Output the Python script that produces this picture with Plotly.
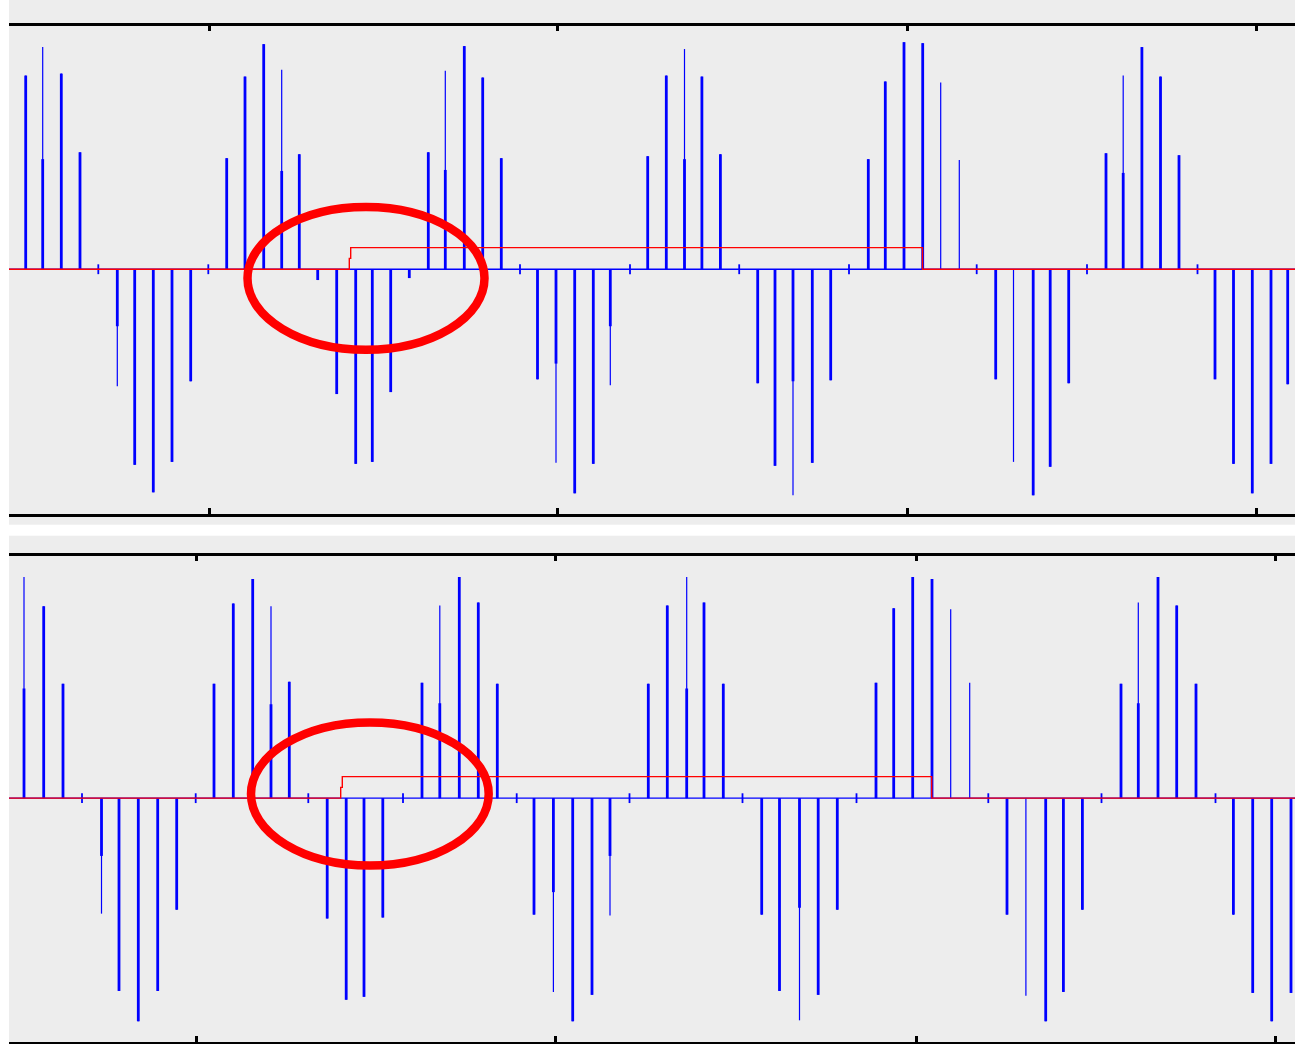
import plotly.graph_objects as go

# Recorder window (sample index) shared by both records
WINDOW = [9, 1295]

# ---------------- upper record ----------------
# pulse position, peak level (V) and level of the wide part of the pulse (V)
TOP_T = [25.7, 42.7, 61.3, 80.0, 117.3, 134.7, 153.3, 172.0, 190.7,
         226.7, 245.0, 263.7, 281.7, 299.3, 317.7, 336.7, 355.7, 372.3, 390.7, 409.3,
         428.3, 445.3, 464.3, 482.7, 501.3, 537.5, 556.0, 574.7, 593.3, 610.3,
         647.7, 666.3, 684.5, 701.9, 720.4, 757.7, 775.0, 793.0, 812.3, 830.7,
         868.3, 885.3, 904.0, 922.7, 940.7, 959.3, 995.7, 1013.5, 1033.2, 1050.2, 1068.7,
         1106.0, 1123.2, 1141.9, 1160.5, 1179.0, 1215.0, 1233.5, 1252.3, 1271.0, 1287.7]
TOP_PEAK = [197, 226, 199, 119, -119, -199, -227, -196, -114,
            113, 196, 229, 203, 117, -11, -127, -198, -196, -125, -9,
            119, 202, 227, 195, 113, -112, -197, -228, -198, -118,
            115, 197, 224, 196, 117, -116, -200, -230, -197, -113,
            112, 191, 231, 230, 190, 111, -112, -196, -230, -201, -116,
            118, 197, 226, 196, 116, -112, -198, -228, -198, -117]
TOP_BODY = [197, 112, 199, 119, -58, -199, -227, -196, -114,
            113, 196, 229, 100, 117, -11, -127, -198, -196, -125, -9,
            119, 101, 227, 195, 113, -112, -96, -228, -198, -58,
            115, 197, 112, 196, 117, -116, -200, -114, -197, -113,
            112, 191, 231, 230, 0, 0, -112, 0, -230, -201, -116,
            118, 98, 226, 196, 116, -112, -198, -228, -198, -117]
TOP_BLIP_T = [98.3, 208.3, 520.0, 630.0, 739.2, 849.0, 976.7, 1087.0, 1197.5]
TOP_FAULT_T = [9, 349.3, 350.7, 922.5, 1295]
TOP_FAULT_V = [0, 11, 22, 0, 0]
TOP_TICKS = [209.3, 557.7, 907.5, 1256.0]

# ---------------- lower record ----------------
BOT_T = [24.0, 43.7, 63.0, 101.5, 119.0, 138.3, 157.7, 176.7,
         214.0, 233.3, 252.7, 271.0, 289.3, 327.2, 346.2, 364.0, 382.8,
         422.0, 439.8, 459.3, 478.3, 497.3, 534.0, 553.4, 572.7, 592.0, 610.0,
         648.3, 667.3, 686.7, 704.0, 723.3, 761.7, 779.5, 799.5, 818.2, 837.3,
         876.0, 893.7, 912.7, 932.0, 950.7, 969.7, 1007.0, 1025.9, 1045.7, 1063.4, 1082.4,
         1121.0, 1138.3, 1158.0, 1176.7, 1196.0, 1233.4, 1252.7, 1271.7, 1291.0]
BOT_PEAK = [226, 196, 117, -118, -197, -228, -197, -114,
            117, 199, 224, 196, 119, -123, -206, -203, -122,
            118, 197, 226, 200, 117, -119, -198, -228, -201, -120,
            117, 197, 226, 200, 117, -119, -197, -227, -201, -114,
            118, 194, 226, 224, 193, 118, -119, -202, -228, -198, -114,
            117, 200, 226, 197, 117, -119, -199, -228, -199]
BOT_BODY = [112, 196, 117, -59, -197, -228, -197, -114,
            117, 199, 224, 96, 119, -123, -206, -203, -122,
            118, 97, 226, 200, 117, -119, -96, -228, -201, -59,
            117, 197, 112, 200, 117, -119, -197, -112, -201, -114,
            118, 194, 226, 224, 0, 0, -119, 0, -228, -198, -114,
            117, 97, 226, 197, 117, -119, -199, -228, -199]
BOT_BLIP_T = [82.0, 195.7, 308.3, 403.0, 516.7, 629.5, 742.5, 856.5, 988.3, 1101.5, 1215.5]
BOT_FAULT_T = [9, 340.7, 342.3, 931.7, 1295]
BOT_FAULT_V = [0, 11, 22, 0, 0]
BOT_TICKS = [196.3, 555.0, 916.0, 1275.0]

BLIP_V = 5          # half-height of the switching glitches (V)

# highlighted regions: (t0, t1, v0, v1)
TOP_MARK = (247.5, 484.5, -81.9, 63.3)
BOT_MARK = (251.0, 488.7, -68.8, 77.3)

BLUE = "#0000ff"
RED = "#ff0000"
BG = "#ededed"

W, H = 1301, 1044


def stems(ts, levels):
    xs, ys = [], []
    for t, v in zip(ts, levels):
        if v == 0:
            continue
        xs += [t, t, None]
        ys += [0, v, None]
    return xs, ys


def glitches(ts):
    xs, ys = [], []
    for t in ts:
        xs += [t, t, None]
        ys += [-BLIP_V, BLIP_V, None]
    return xs, ys


fig = go.Figure()


def add_record(xa, xa_top, ya, ts, peaks, bodies, blips, ft, fv):
    # empty trace so the upper frame axis gets its own subplot
    fig.add_trace(go.Scatter(x=[None], y=[None], mode="lines",
                             xaxis=xa_top, yaxis=ya, hoverinfo="skip"))
    fig.add_trace(go.Scatter(x=WINDOW, y=[0, 0], mode="lines",
                             line=dict(color=BLUE, width=1.3),
                             xaxis=xa, yaxis=ya, hoverinfo="skip"))
    x, y = stems(ts, peaks)
    fig.add_trace(go.Scatter(x=x, y=y, mode="lines",
                             line=dict(color=BLUE, width=1.2),
                             xaxis=xa, yaxis=ya, hoverinfo="skip"))
    x, y = stems(ts, bodies)
    fig.add_trace(go.Scatter(x=x, y=y, mode="lines",
                             line=dict(color=BLUE, width=2.8),
                             xaxis=xa, yaxis=ya, hoverinfo="skip"))
    x, y = glitches(blips)
    fig.add_trace(go.Scatter(x=x, y=y, mode="lines",
                             line=dict(color=BLUE, width=1.8),
                             xaxis=xa, yaxis=ya, hoverinfo="skip"))
    fig.add_trace(go.Scatter(x=ft, y=fv, mode="lines", line_shape="hv",
                             line=dict(color=RED, width=1.4),
                             xaxis=xa, yaxis=ya, hoverinfo="skip"))


add_record("x", "x2", "y", TOP_T, TOP_PEAK, TOP_BODY, TOP_BLIP_T, TOP_FAULT_T, TOP_FAULT_V)
add_record("x3", "x4", "y2", BOT_T, BOT_PEAK, BOT_BODY, BOT_BLIP_T, BOT_FAULT_T, BOT_FAULT_V)

for xref, yref, (t0, t1, v0, v1) in (("x", "y", TOP_MARK), ("x3", "y2", BOT_MARK)):
    fig.add_shape(type="circle", xref=xref, yref=yref, x0=t0, x1=t1, y0=v0, y1=v1,
                  line=dict(color=RED, width=8.5), layer="above")


def px(p):
    return 1 - p / H


frame_axis = dict(range=WINDOW, showgrid=False, zeroline=False, showticklabels=False,
                  ticks="inside", ticklen=6, tickwidth=3, tickcolor="black",
                  showline=True, linecolor="black", linewidth=2.6, anchor="free")

fig.update_layout(
    width=W, height=H,
    margin=dict(l=9, r=6, t=0, b=0),
    paper_bgcolor="white", plot_bgcolor=BG,
    showlegend=False,
    xaxis=dict(frame_axis, domain=[0, 1], position=px(515), side="bottom", tickvals=TOP_TICKS),
    xaxis2=dict(frame_axis, domain=[0, 1], overlaying="x", matches="x",
                position=px(23.5), side="top", tickvals=TOP_TICKS),
    xaxis3=dict(frame_axis, domain=[0, 1], position=px(1042.8), side="bottom", tickvals=BOT_TICKS),
    xaxis4=dict(frame_axis, domain=[0, 1], overlaying="x3", matches="x3",
                position=px(553.5), side="top", tickvals=BOT_TICKS),
    yaxis=dict(domain=[px(524.7), 1], anchor="x", range=[-259.9, 273.9],
               showgrid=False, zeroline=False, showticklabels=False, showline=False),
    yaxis2=dict(domain=[0, px(535.7)], anchor="x3", range=[-251.2, 268.2],
                showgrid=False, zeroline=False, showticklabels=False, showline=False),
)

fig.write_html("out.html")
